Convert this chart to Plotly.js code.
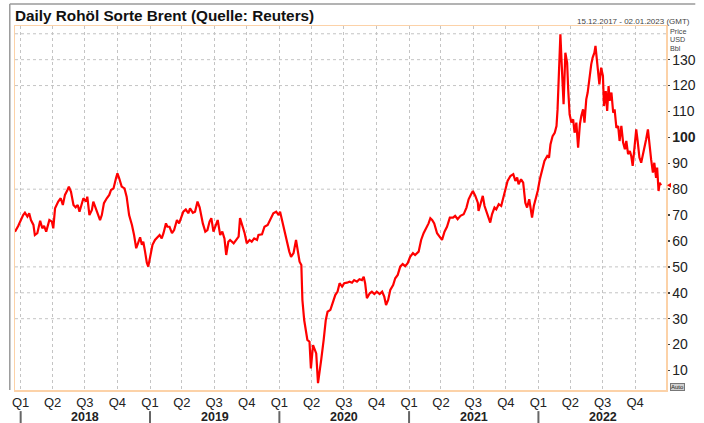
<!DOCTYPE html>
<html>
<head>
<meta charset="utf-8">
<script src="https://cdn.plot.ly/plotly-3.0.1.min.js"></script>
<style>html,body{margin:0;padding:0;background:#fff;}#chart{width:704px;height:423px;}</style>
</head>
<body>
<div id="chart"></div>
<script>
// Day offsets from 2017-12-16 and Brent price (USD/bbl)
const startDate = Date.UTC(2017, 11, 16);
const dayOffsets = [
  0,9,23,28,35,40,45,52,56,63,71,77,82,88,97,104,108,113,122,129,135,141,148,152,158,165,171,177,182,186,193,201,204,210,217,221,226,232,240,245,251,259,266,271,278,285,289,294,301,309,315,322,330,336,342,347,353,358,362,367,372,376,381,388,395,402,408,414,419,426,430,436,443,449,457,463,468,475,482,489,494,502,508,515,521,525,530,537,543,549,554,560,567,572,579,585,591,596,602,
  607,617,624,631,635,642,648,654,662,668,675,683,687,697,704,713,720,729,737,744,748,753,760,767,774,779,786,793,798,803,808,811,816,821,825,831,835,841,845,850,855,859,864,871,877,882,890,896,904,910,916,923,929,937,944,951,957,965,972,979,984,988,993,1001,1007,1014,1021,1029,1036,1042,1047,1053,1059,1067,1073,1080,1087,1094,1101,1108,1115,1123,1129,1139,1146,1153,1161,1167,1172,1177,1183,1191,1198,1205,1212,1219,1227,
  1236,1242,1249,1257,1266,1274,1280,1287,1292,1299,1306,1308,1313,1320,1325,1332,1337,1341,1346,1353,1358,1365,1372,1377,1384,1390,1398,1406,1412,1417,1421,1428,1434,1437,1440,1445,1451,1454,1459,1464,1468,1475,1481,1487,1494,1502,1507,1511,1517,1523,1528,1531,1535,1539,1542,1545,1548,1553,1558,1561,1565,1570,1575,1579,1584,1589,1594,1598,1603,1607,1612,1616,1621,1626,1630,1635,1638,1641,1644,1649,1654,1659,1662,1667,1671,1675,1678,1683,1688,1692,1697,1702,1706,1711,1716,1721,1725,1730,1735,1739,1743,1748,1753,1757,1762,1767,1771,1776,1781,1786,1790,1795,1800,1804,1809,1812,1816,1819,1823
];
const brent = [
  63.6,65.8,70.0,70.9,69.4,70.7,68.1,66.2,62.3,63.0,67.8,64.9,65.8,63.6,68.1,67.5,64.9,72.6,75.2,76.5,73.9,77.8,79.7,81.0,79.0,73.9,73.0,73.9,71.3,73.5,76.5,75.2,77.1,70.0,72.0,75.2,73.2,71.3,68.1,70.0,74.6,76.5,77.8,79.7,80.3,84.2,86.1,84.2,81.0,80.3,77.1,70.0,66.2,62.3,57.2,59.1,61.4,58.5,59.7,55.9,51.6,50.1,53.9,58.5,60.4,61.4,62.3,61.0,63.0,66.8,65.5,65.5,63.0,64.2,68.1,66.8,68.8,71.3,72.2,70.7,72.6,70.9,71.3,75.2,73.0,70.0,66.8,63.6,64.2,67.5,68.8,63.6,65.8,68.1,62.3,63.6,61.0,54.6,59.7,
  60.4,59.1,60.4,61.7,68.8,65.5,63.0,59.1,60.4,59.7,61.0,60.4,62.3,62.6,65.5,66.2,68.1,70.7,71.3,70.0,71.3,68.1,64.2,60.4,55.9,53.9,55.3,60.4,56.5,52.0,50.7,37.2,29.5,24.4,21.8,21.1,10.8,19.8,18.6,16.6,5.1,10.2,14.1,21.8,29.5,32.7,33.4,35.9,39.2,40.4,43.7,42.4,43.7,43.9,44.3,43.9,44.9,44.3,45.2,44.9,46.2,43.7,37.9,39.8,40.4,39.5,40.4,39.5,40.4,38.5,35.3,37.2,41.1,43.0,45.6,46.9,50.1,51.1,50.3,51.4,53.9,55.3,54.6,55.9,60.4,63.0,64.9,66.8,68.8,68.1,66.8,63.0,61.7,60.4,63.6,65.5,69.0,
  69.0,69.7,68.4,69.7,70.3,72.9,76.1,78.0,79.3,77.4,74.8,71.6,74.2,77.4,73.5,70.3,69.0,67.1,70.3,72.9,72.2,74.2,73.5,76.1,80.0,83.2,85.1,85.8,83.2,84.5,81.9,83.8,82.5,78.6,74.8,72.9,76.1,73.5,69.0,73.5,75.4,79.3,83.8,87.7,90.9,92.8,92.2,97.3,100.5,101.8,104.4,110.8,122.4,139.8,130.2,122.4,112.8,132.7,128.8,118.6,108.9,105.7,107.0,101.8,105.7,96.0,105.0,108.3,110.8,105.7,114.7,117.3,123.7,128.2,130.8,132.7,135.3,131.4,126.3,120.5,126.9,123.7,112.1,117.9,110.2,119.8,114.1,117.3,109.5,110.8,103.7,104.4,98.6,104.4,98.0,95.4,98.6,93.5,94.7,92.8,89.0,95.4,103.1,98.6,92.2,90.2,92.8,94.7,99.3,103.1,96.7,91.5,86.4,90.2,84.4,88.3,79.3,82.5,81.5
];
const yTickVals = [10,20,30,40,50,60,70,80,90,100,110,120,130];
const yTickText = ['10','20','30','40','50','60','70','80','90','<b>100</b>','110','120','130'];
const gridValues = [30,40,50,80,120,130,140];
const years = [2018,2019,2020,2021,2022];
const quarterNames = ['Q1','Q2','Q3','Q4'];
const unitLabels = ['Price','USD','Bbl'];
const titleText = 'Daily Rohöl Sorte Brent (Quelle: Reuters)';
const rangeText = '15.12.2017 - 02.01.2023 (GMT)';

const dates = dayOffsets.map(d => new Date(startDate + d * 864e5).toISOString().slice(0, 10));
const qVals = [], qText = [];
years.forEach(y => ['01','04','07','10'].forEach((m, i) => { qVals.push(y + '-' + m + '-01'); qText.push(quarterNames[i]); }));

const FONT = 'Arial, "Liberation Sans", sans-serif';
const shapes = [];
gridValues.forEach(v => shapes.push({type:'line', xref:'paper', yref:'y', x0:0, x1:1, y0:v, y1:v, layer:'below', line:{color:'#c4c4c4', width:1, dash:'dot'}}));
years.forEach(y => shapes.push({type:'line', xref:'x', yref:'paper', x0:y+'-01-01', x1:y+'-01-01', y0:-0.058, y1:-0.095, line:{color:'#666', width:2}}));
// outer gray frame
shapes.push({type:'line', xref:'paper', yref:'paper', x0:-0.008, x1:1.045, y0:1.0604, y1:1.0604, line:{color:'#9a9a9a', width:1.5}});
shapes.push({type:'line', xref:'paper', yref:'paper', x0:-0.008, x1:-0.008, y0:1.0604, y1:0, line:{color:'#9a9a9a', width:1.5}});
// last value marker
shapes.push({type:'path', xref:'paper', yref:'y', xsizemode:'pixel', ysizemode:'pixel', xanchor:1, yanchor:brent[brent.length-1], path:'M 1 0 L 5 -2.5 L 5 2.5 Z', fillcolor:'#ff0000', line:{width:0}});

const annotations = [
  {text:'<b>'+titleText+'</b>', xref:'paper', yref:'paper', x:-0.003, y:1.0275, xanchor:'left', yanchor:'middle', showarrow:false, font:{family:FONT, size:15.3, color:'#111'}},
  {text:rangeText, xref:'paper', yref:'paper', x:1.04, y:1.0137, xanchor:'right', yanchor:'middle', showarrow:false, font:{family:FONT, size:8, color:'#444'}},
  {text:'Auto', xref:'paper', yref:'paper', x:1.0177, y:0.0096, xanchor:'center', yanchor:'middle', showarrow:false, font:{family:FONT, size:6, color:'#222'}, bgcolor:'#d0d0d0', bordercolor:'#777', borderwidth:1, borderpad:0}
];
unitLabels.forEach((t, i) => annotations.push({text:t, xref:'paper', yref:'paper', x:1.003, y:1 - (5.2 + i*8.6)/364, xanchor:'left', yanchor:'middle', showarrow:false, font:{family:FONT, size:7.2, color:'#444'}}));
years.forEach(y => annotations.push({text:'<b>'+y+'</b>', xref:'x', yref:'paper', x:y+'-07-02', y:-0.0742, xanchor:'center', yanchor:'middle', showarrow:false, font:{family:FONT, size:12.5, color:'#222'}}));

const trace = {x:dates, y:brent, type:'scatter', mode:'lines', line:{color:'#ff0000', width:2.2}, hoverinfo:'skip'};

const layout = {
  width:704, height:423,
  margin:{l:15, r:38, t:26, b:33, pad:0},
  paper_bgcolor:'#ffffff', plot_bgcolor:'#ffffff',
  showlegend:false,
  font:{family:FONT, color:'#222'},
  xaxis:{type:'date', range:['2017-12-16','2022-12-27'], tickvals:qVals, ticktext:qText, ticks:'', showgrid:true, gridcolor:'#c4c4c4', griddash:'dot', gridwidth:1,
         showline:true, mirror:true, linecolor:'#fcd2a8', linewidth:1.5, zeroline:false, tickfont:{family:FONT, size:13, color:'#222'}, fixedrange:true},
  yaxis:{side:'right', range:[2.47,143.0], tickvals:yTickVals, ticktext:yTickText, ticks:'outside', ticklen:2, tickwidth:1.5, tickcolor:'#444',
         showgrid:false, zeroline:false, showline:true, mirror:true, linecolor:'#fcd2a8', linewidth:1.5, tickfont:{family:FONT, size:14, color:'#222'}, fixedrange:true},
  shapes:shapes,
  annotations:annotations
};
Plotly.newPlot('chart', [trace], layout, {staticPlot:true, displayModeBar:false});
</script>
</body>
</html>
